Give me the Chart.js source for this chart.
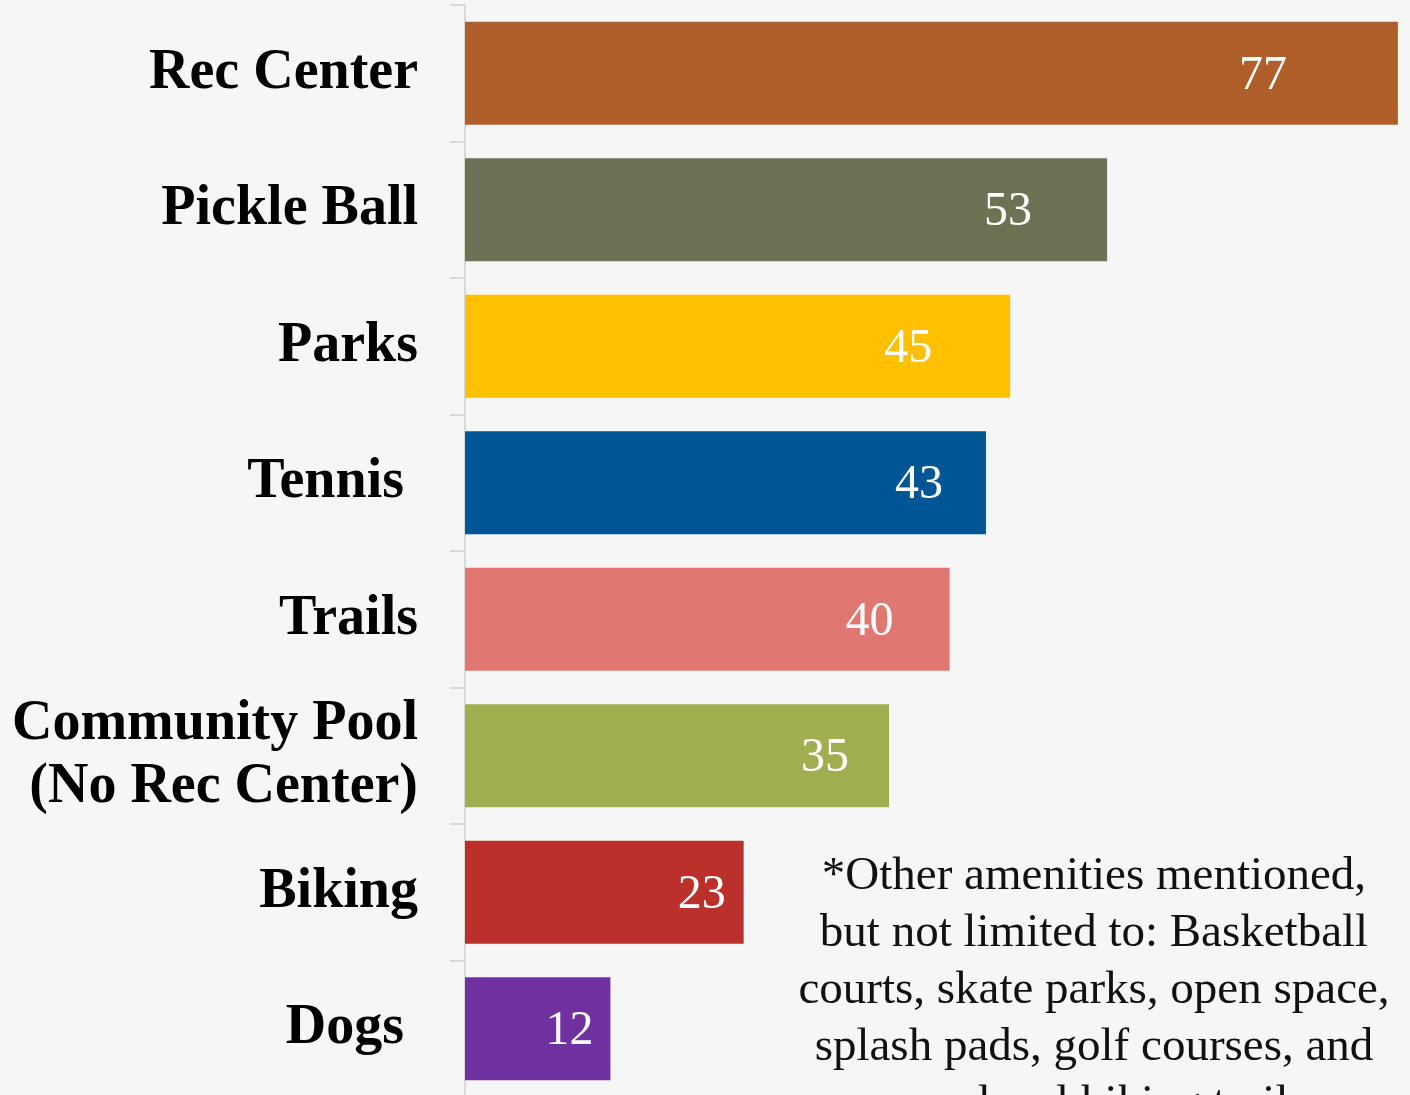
<!DOCTYPE html>
<html>
<head>
<meta charset="utf-8">
<script src="https://cdn.jsdelivr.net/npm/chart.js@4"></script>
<style>
    html, body { margin: 0; padding: 0; overflow: hidden; background: #f6f6f6; }
    #wrap { position: relative; width: 1410px; height: 1097px; }
    #note {
        position: absolute;
        left: 764px;
        top: 845px;
        width: 660px;
        text-align: center;
        font-family: "Liberation Serif", serif;
        font-size: 47px;
        line-height: 57px;
        color: #111;
        white-space: nowrap;
    }
</style>
</head>
<body>
<div id="wrap">
    <canvas id="amenityChart" width="1410" height="1097"></canvas>
    <div id="note">*Other amenities mentioned,<br>but not limited to: Basketball<br>courts, skate parks, open space,<br>splash pads, golf courses, and<br>more local hiking trails.</div>
</div>
<script>
// Amenity counts, top to bottom
const amenities = ['Rec Center', 'Pickle Ball', 'Parks', 'Tennis ', 'Trails',
    ['Community Pool', '(No Rec Center)'], 'Biking', 'Dogs '];
const mentions = [77, 53, 45, 43, 40, 35, 23, 12];
const barColors = ['#B05F2A', '#6E7255', '#FFC000', '#005594', '#E07871', '#A0AE50', '#BB302A', '#7030A0'];

// how far back from the bar end each value label sits (px, label centre)
const labelShift = [135, 99, 102, 67, 80, 64, 42, 41];

const valueLabels = {
    id: 'valueLabels',
    afterDatasetsDraw(chart) {
        const ctx = chart.ctx;
        const meta = chart.getDatasetMeta(0);
        ctx.save();
        ctx.fillStyle = '#ffffff';
        ctx.font = '48px "Liberation Serif"';
        ctx.textAlign = 'center';
        ctx.textBaseline = 'middle';
        meta.data.forEach((bar, i) => {
            ctx.fillText(String(mentions[i]), bar.x - labelShift[i], bar.y + 3);
        });
        ctx.restore();
    }
};

new Chart(document.getElementById('amenityChart'), {
    type: 'bar',
    data: {
        labels: amenities,
        datasets: [{
            data: mentions,
            backgroundColor: barColors,
            categoryPercentage: 0.755,
            barPercentage: 1
        }]
    },
    options: {
        indexAxis: 'y',
        responsive: false,
        animation: false,
        layout: { padding: { top: 5, right: 0, bottom: 0, left: 0 } },
        plugins: {
            legend: { display: false },
            tooltip: { enabled: false }
        },
        scales: {
            x: {
                display: false,
                min: 0,
                max: 78
            },
            y: {
                afterFit(scale) {
                    scale.width = 465;
                    scale.paddingTop = 0;
                    scale.paddingBottom = 0;
                },
                border: { display: true, color: '#d9d9d9', width: 2 },
                grid: {
                    offset: true,
                    drawOnChartArea: false,
                    drawTicks: true,
                    tickLength: 15,
                    color: '#d9d9d9',
                    lineWidth: 2
                },
                ticks: {
                    color: '#000000',
                    padding: 32,
                    font: { family: '"Liberation Serif"', size: 56, weight: 'bold', lineHeight: 1.12 }
                }
            }
        }
    },
    plugins: [valueLabels]
});
</script>
</body>
</html>
